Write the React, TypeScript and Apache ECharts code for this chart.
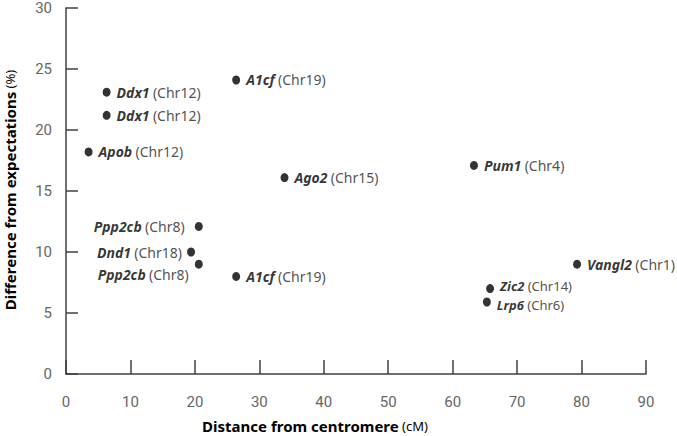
import React, { useEffect, useRef } from "react";
import * as echarts from "echarts";

const genes = ["Ddx1", "Ddx1", "Apob", "A1cf", "Ago2", "Ppp2cb", "Dnd1", "Ppp2cb", "A1cf", "Pum1", "Vangl2", "Zic2", "Lrp6"];
const chromosomes = ["Chr12", "Chr12", "Chr12", "Chr19", "Chr15", "Chr8", "Chr18", "Chr8", "Chr19", "Chr4", "Chr1", "Chr14", "Chr6"];
const distances = [6.3, 6.3, 3.5, 26.4, 33.9, 20.6, 19.4, 20.6, 26.4, 63.3, 79.3, 65.8, 65.3];
const differences = [23.1, 21.2, 18.2, 24.1, 16.1, 12.1, 10.0, 9.0, 8.0, 17.1, 9.0, 7.0, 5.9];

const xTicks = [0, 10, 20, 30, 40, 50, 60, 70, 80, 90];
const yTicks = [0, 5, 10, 15, 20, 25, 30];

const labelFont = "'Noto Sans', 'Open Sans', sans-serif";
const tickFont = "'Liberation Sans Narrow', 'Roboto', sans-serif";

function richFor(size: number) {
  return {
    g: { fontFamily: labelFont, fontSize: size, fontWeight: "bold", fontStyle: "italic", color: "#000", lineHeight: 12 },
    c: { fontFamily: labelFont, fontSize: size, color: "#222", lineHeight: 12 },
  };
}

export default function App() {
  const ref = useRef<HTMLDivElement>(null);
  useEffect(() => {
    if (!ref.current) return;
    const chart = echarts.init(ref.current, null, { renderer: "svg" });
    const leftDistance: Record<number, number> = { 5: 10, 6: 5, 7: 6 };
    const labelOffset: Record<number, number[]> = { 7: [0, 10], 11: [0, -2.5], 12: [0, 2.5] };
    const tight = new Set([11, 12]);
    const data = genes.map((g, i) => {
      const left = i in leftDistance;
      return {
        value: [distances[i], differences[i]],
        label: {
          show: true,
          position: left ? "left" : "right",
          distance: left ? leftDistance[i] : 6,
          offset: labelOffset[i] || [0, 0],
          formatter: `{g|${g}} {c|(${chromosomes[i]})}`,
          rich: richFor(tight.has(i) ? 13 : 14),
        },
      };
    });
    chart.setOption({
      animation: false,
      backgroundColor: "#ffffff",
      grid: { left: 66, right: 31, top: 8, bottom: 62 },
      xAxis: {
        type: "value",
        min: xTicks[0],
        max: xTicks[xTicks.length - 1],
        interval: 10,
        axisLine: { lineStyle: { color: "#404040", width: 1.5 } },
        axisTick: { inside: true, length: 14, lineStyle: { color: "#404040", width: 1.5 } },
        splitLine: { show: false },
        axisLabel: { margin: 20, color: "#666666", fontSize: 15, fontFamily: tickFont },
      },
      yAxis: {
        type: "value",
        min: yTicks[0],
        max: yTicks[yTicks.length - 1],
        interval: 5,
        axisLine: { show: true, lineStyle: { color: "#404040", width: 1.5 } },
        axisTick: { show: true, inside: true, length: 12, lineStyle: { color: "#404040", width: 1.5 } },
        splitLine: { show: false },
        axisLabel: { margin: 14, color: "#666666", fontSize: 15, fontFamily: tickFont },
      },
      series: [
        {
          type: "scatter",
          symbol: "circle",
          symbolSize: [8, 9],
          itemStyle: { color: "#000000" },
          label: { lineHeight: 12, rich: richFor(14) },
          data,
        },
      ],
      graphic: [
        {
          type: "text",
          x: 10,
          y: 190,
          rotation: Math.PI / 2,
          style: {
            text: "{b|Difference from expectations} {n|(%)}",
            align: "center",
            verticalAlign: "middle",
            rich: {
              b: { fontFamily: labelFont, fontSize: 15, fontWeight: "bold", fill: "#000" },
              n: { fontFamily: labelFont, fontSize: 13, fill: "#000" },
            },
          },
        },
        {
          type: "text",
          x: 315,
          y: 426,
          style: {
            text: "{b|Distance from centromere} {n|(cM)}",
            align: "center",
            verticalAlign: "middle",
            rich: {
              b: { fontFamily: labelFont, fontSize: 15, fontWeight: "bold", fill: "#000" },
              n: { fontFamily: labelFont, fontSize: 13, fill: "#000" },
            },
          },
        },
      ],
    });
    return () => chart.dispose();
  }, []);
  return <div ref={ref} style={{ width: 677, height: 436, position: "absolute", left: 0, top: 0 }} />;
}
